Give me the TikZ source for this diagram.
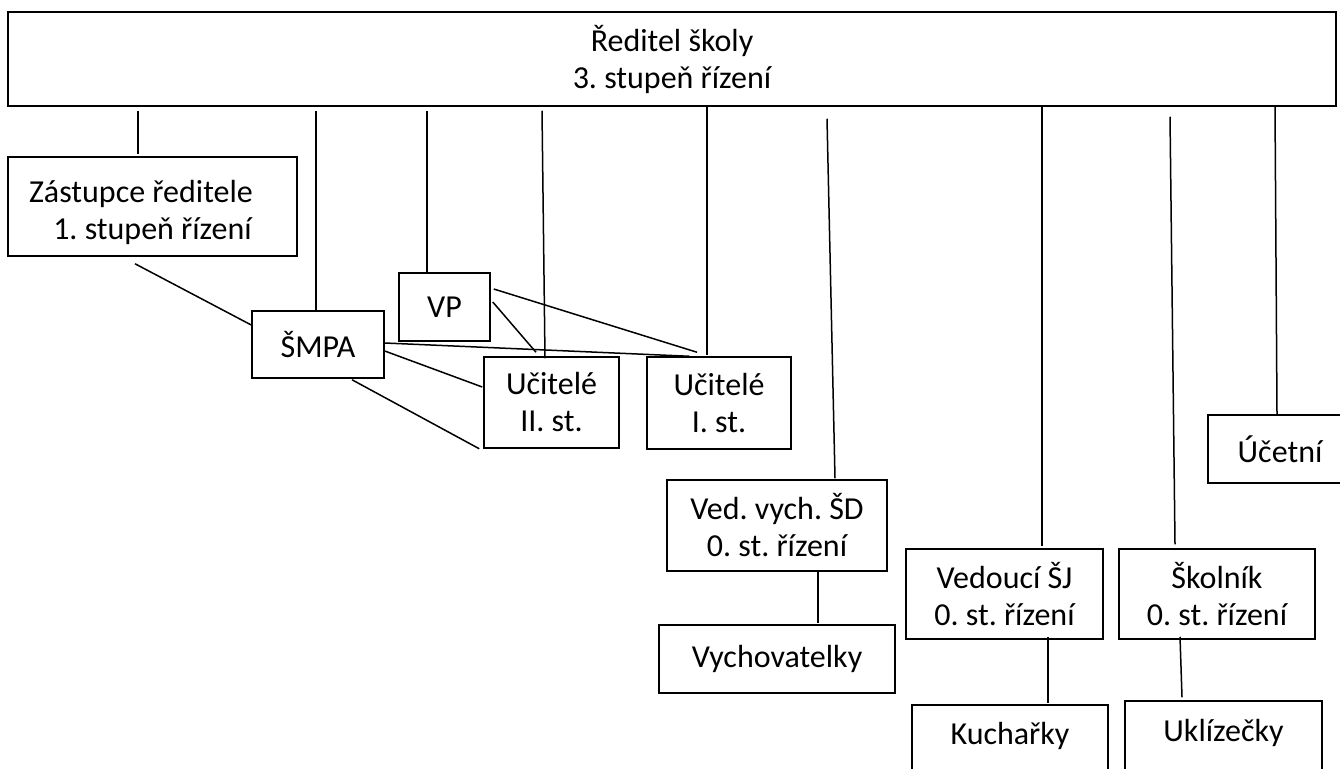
\documentclass[tikz,border=0pt]{standalone}
\usepackage{fontspec}
\setmainfont{Carlito}
\usetikzlibrary{calc}
\tikzset{
  orgbox/.style={draw, line width=1.5pt, rectangle, inner sep=0pt, align=center,
    font=\fontsize{32}{37}\selectfont},
  conn/.style={line width=1.5pt},
  boxlabel/.style={font=\fontsize{32}{37}\selectfont, inner sep=0pt, align=center},
}
\begin{document}
\frenchspacing
\begin{tikzpicture}[x=1pt,y=-1pt]
\useasboundingbox (0,0) rectangle (1340,768);
\fill[white] (0,0) rectangle (1340,768);
\clip (0,0) rectangle (1340,768);
% boxes
\node[orgbox, minimum width=1328pt, minimum height=94pt] (top) at (672,59) {Ředitel školy\\3. stupeň řízení};
\node[orgbox, minimum width=289pt, minimum height=99pt,
  label={[boxlabel, yshift=-6pt]center:Zástupce ředitele\hspace*{23pt}\\1. stupeň řízení}] (zast) at (152.5,206.5) {};
\node[orgbox, minimum width=132pt, minimum height=67pt] (smpa) at (318,344.5) {ŠMPA};
\node[orgbox, minimum width=91pt, minimum height=68pt] (vp) at (444.5,307) {VP};
\node[orgbox, minimum width=135pt, minimum height=91pt] (uc2) at (551.5,402.5) {Učitelé\\II. st.};
\node[orgbox, minimum width=144pt, minimum height=92pt] (uc1) at (719,403) {Učitelé\\I. st.};
\node[orgbox, minimum width=220pt, minimum height=91pt] (vedvych) at (777,525.5) {Ved. vych. ŠD\\0. st. řízení};
\node[orgbox, minimum width=236pt, minimum height=68pt] (vychov) at (777,659) {Vychovatelky};
\node[orgbox, minimum width=197pt, minimum height=90pt] (vedsj) at (1004.5,594) {Vedoucí ŠJ\\0. st. řízení};
\node[orgbox, minimum width=196pt, minimum height=90pt] (skolnik) at (1217,594) {Školník\\0. st. řízení};
\node[orgbox, minimum width=196pt, minimum height=95pt,
  label={[boxlabel, yshift=16.5pt]center:Kuchařky}] (kuch) at (1010,752.5) {};
\node[orgbox, minimum width=197pt, minimum height=95pt,
  label={[boxlabel, yshift=15.5pt]center:Uklízečky}] (ukl) at (1223.5,748.5) {};
\node[orgbox, minimum width=144pt, minimum height=68pt] (ucetni) at (1280,449) {Účetní};
% connectors from the director
\draw[conn] ($(top.south -| zast.north)+(-14.5,4)$) -- ($(zast.north)+(-14.5,-2)$);
\draw[conn] ($(top.south -| smpa.north)+(-2,4)$) -- ($(smpa.north)+(-2,0)$);
\draw[conn] ($(top.south -| vp.north)+(-17.5,4)$) -- ($(vp.north)+(-17.5,0)$);
\draw[conn] ($(top.south -| uc2.north)+(-9.5,4)$) -- ($(uc2.north)+(-6.5,2)$);
\draw[conn] ($(top.south -| uc1.north)+(-12,0)$) -- ($(uc1.north)+(-12,-1)$);
\draw[conn] ($(top.south -| vedvych.north)+(50,12)$) -- ($(vedvych.north)+(58,-1)$);
\draw[conn] ($(top.south -| vedsj.north)+(37.5,0)$) -- ($(vedsj.north)+(37.5,-2)$);
\draw[conn] ($(top.south -| skolnik.north)+(-47,10)$) -- ($(skolnik.north)+(-42,-4)$);
\draw[conn] ($(top.south -| ucetni.north)+(-5,0)$) -- ($(ucetni.north)+(-3,0)$);
% other connectors
\draw[conn] ($(zast.south)+(-17.5,7)$) -- ($(smpa.west)+(0,-19.5)$);
\draw[conn] ($(smpa.east)+(0,-1.5)$) -- ($(uc1.north west)+(43,0)$);
\draw[conn] ($(smpa.east)+(0,6.5)$) -- ($(uc2.west)+(-1,-15.5)$);
\draw[conn] ($(smpa.south)+(34,1)$) -- ($(uc2.south west)+(-4,0)$);
\draw[conn] ($(vp.east)+(2,-5)$) -- ($(uc2.north)+(-15.5,-4)$);
\draw[conn] ($(vp.east)+(3,-18)$) -- ($(uc1.north)+(-22,-4)$);
\draw[conn] ($(vedvych.south)+(41,0)$) -- ($(vychov.north)+(41,-1)$);
\draw[conn] ($(vedsj.south)+(43.5,-3)$) -- ($(kuch.north)+(38,-1)$);
\draw[conn] ($(skolnik.south)+(-37,-3)$) -- ($(ukl.north)+(-41.5,-3)$);
\end{tikzpicture}
\end{document}
